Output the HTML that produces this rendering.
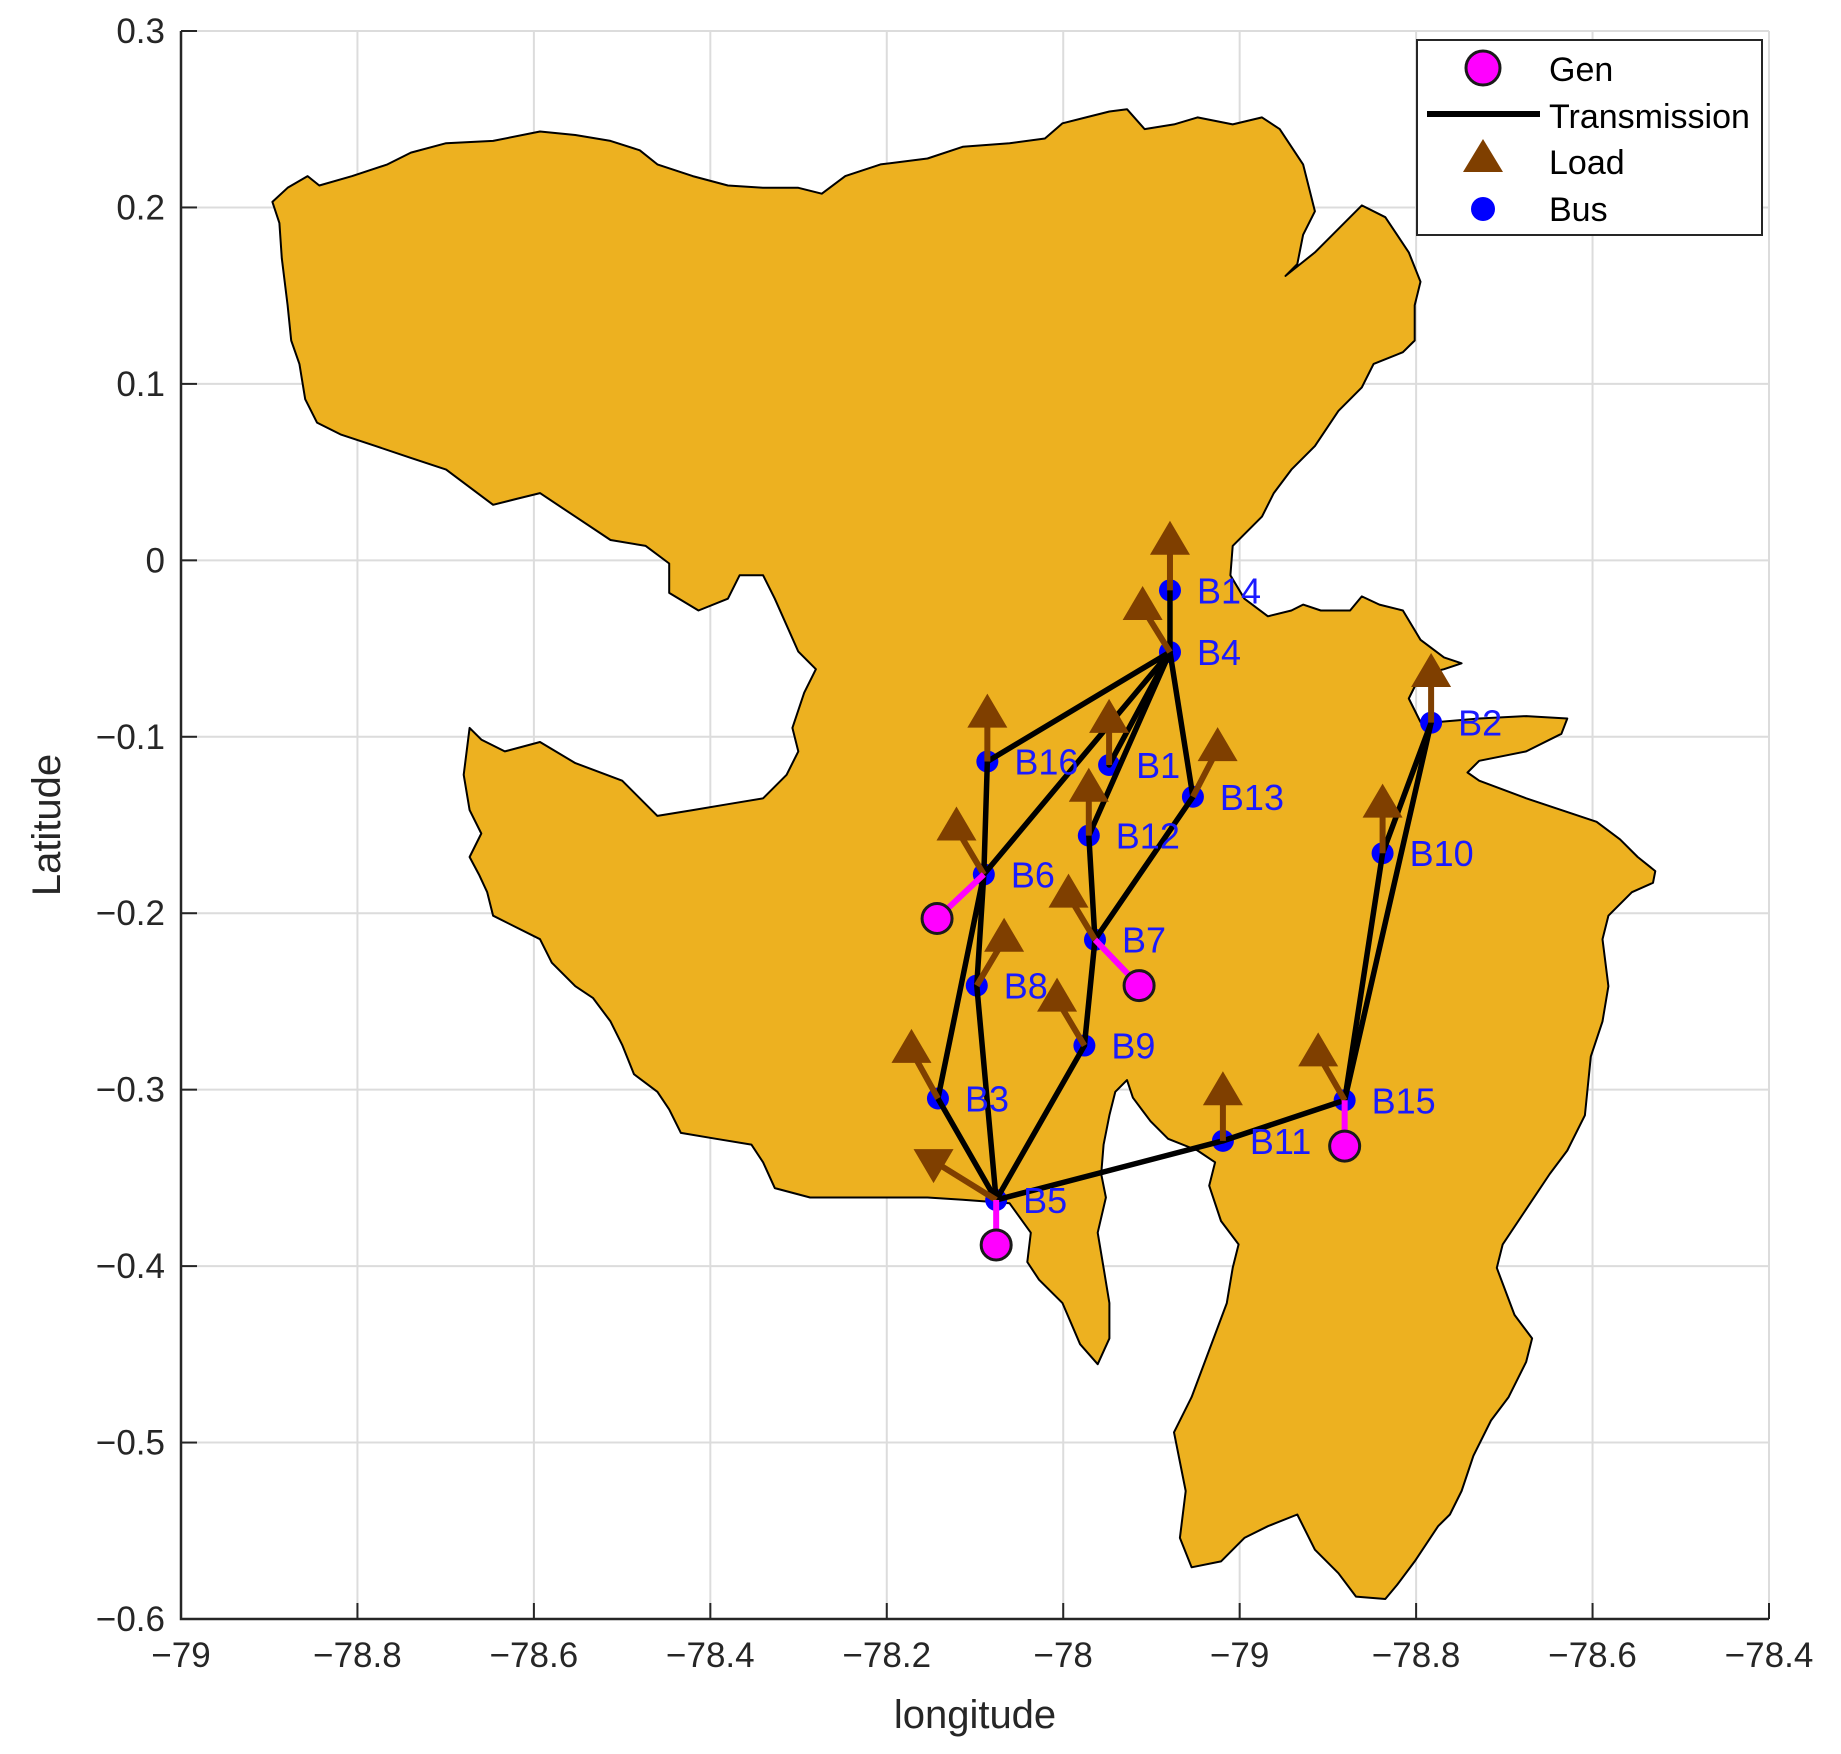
<!DOCTYPE html>
<html><head><meta charset="utf-8"><style>
html,body{margin:0;padding:0;background:#fff;}
svg{display:block;font-family:"Liberation Sans",Arial,sans-serif;}
</style></head><body>
<svg id="chart" width="1841" height="1754" viewBox="0 0 1841 1754" xmlns="http://www.w3.org/2000/svg">
<rect width="1841" height="1754" fill="#fff"/>
<g id="grid"></g>
<g id="region"></g>
<g id="lines"></g>
<g id="marks"></g>
<g id="axes"></g>
<g id="legend">
<rect x="1417" y="40" width="345" height="195" fill="#fff" stroke="#262626" stroke-width="2"/>
<circle cx="1483" cy="68" r="17" fill="#ff00ff" stroke="#1a1a1a" stroke-width="3"/>
<text x="1549" y="81" font-size="34" fill="#000">Gen</text>
<line x1="1427" y1="114" x2="1540" y2="114" stroke="#000" stroke-width="6"/>
<text x="1549" y="128" font-size="34" fill="#000">Transmission</text>
<polygon points="1463,172 1483,139 1503,172" fill="#7f3f00"/>
<text x="1549" y="174" font-size="34" fill="#000">Load</text>
<circle cx="1483" cy="209" r="12" fill="#0000ff"/>
<text x="1549" y="221" font-size="34" fill="#000">Bus</text>
</g>
</svg>
<script>
const xTickLabels = ["\u221279","\u221278.8","\u221278.6","\u221278.4","\u221278.2","\u221278","\u221279","\u221278.8","\u221278.6","\u221278.4"];
const yTickLabels = ["0.3","0.2","0.1","0","\u22120.1","\u22120.2","\u22120.3","\u22120.4","\u22120.5","\u22120.6"];
const busNames = ["B1","B2","B3","B4","B5","B6","B7","B8","B9","B10","B11","B12","B13","B14","B15","B16"];
const busLon = [-77.948,-77.583,-78.142,-77.879,-78.076,-78.090,-77.964,-78.098,-77.976,-77.638,-77.819,-77.971,-77.853,-77.879,-77.681,-78.086];
const busLat = [-0.116,-0.092,-0.305,-0.052,-0.3625,-0.178,-0.215,-0.241,-0.275,-0.166,-0.329,-0.156,-0.134,-0.017,-0.306,-0.114];
const loadDLon = [0,0,-0.030,-0.031,-0.071,-0.031,-0.030,0.031,-0.031,0,0,0,0.028,0,-0.030,0];
const loadDLat = [0.025,0.027,0.027,0.025,0.022,0.026,0.025,0.026,0.026,0.027,0.027,0.026,0.027,0.027,0.026,0.026];
const loadDown = [0,0,0,0,1,0,0,0,0,0,0,0,0,0,0,0];
const edgeFrom = ["B14","B4","B4","B4","B4","B4","B16","B13","B12","B7","B6","B6","B8","B9","B3","B5","B11","B15","B15","B10"];
const edgeTo   = ["B4","B16","B6","B1","B12","B13","B6","B7","B7","B9","B8","B3","B5","B5","B5","B11","B15","B2","B10","B2"];
const genBus = ["B6","B7","B5","B15"];
const genLon = [-78.143,-77.914,-78.076,-77.681];
const genLat = [-0.203,-0.241,-0.388,-0.332];

const X0=181,X1=1769,Y0=31,Y1=1619;
const xs = v => X0 + (v + 79) / 1.8 * (X1 - X0);
const ys = v => Y0 + (0.3 - v) / 0.9 * (Y1 - Y0);
const NS="http://www.w3.org/2000/svg";
function mk(tag, attrs, parent){const e=document.createElementNS(NS,tag);for(const k in attrs)e.setAttribute(k,attrs[k]);parent.appendChild(e);return e;}

const grid=document.getElementById('grid'), axes=document.getElementById('axes');
xTickLabels.forEach((t,i)=>{
  const x=xs(-79+i*0.2);
  const g=mk('line',{x1:x,y1:Y0,x2:x,y2:Y1,stroke:'#dcdcdc','stroke-width':2},grid);
  
  
  const tk=mk('line',{x1:x,y1:Y1,x2:x,y2:Y1-16,stroke:'#262626','stroke-width':2},axes);
  
  
  const tx=mk('text',{x:x,y:Y1+48,'font-size':35,'text-anchor':'middle',fill:'#262626'},axes);
  tx.textContent=t;
  
  
});
yTickLabels.forEach((t,i)=>{
  const y=ys(0.3-i*0.1);
  const g=mk('line',{x1:X0,y1:y,x2:X1,y2:y,stroke:'#dcdcdc','stroke-width':2},grid);
  
  
  const tk=mk('line',{x1:X0,y1:y,x2:X0+16,y2:y,stroke:'#262626','stroke-width':2},axes);
  
  
  const tx=mk('text',{x:X0-16,y:y+12,'font-size':35,'text-anchor':'end',fill:'#262626'},axes);
  tx.textContent=t;
  
  
});
const ax=mk('path',{d:`M${X0},${Y0}V${Y1}H${X1}`,fill:'none',stroke:'#262626','stroke-width':2.5},axes);


const xt=mk('text',{x:(X0+X1)/2,y:1728,'font-size':40,'text-anchor':'middle',fill:'#262626'},axes);
xt.textContent='longitude';


const yt=mk('text',{x:0,y:0,'font-size':40,'text-anchor':'middle',fill:'#262626',transform:`translate(60,${(Y0+Y1)/2}) rotate(-90)`},axes);
yt.textContent='Latitude';



const outline=[[232,172],[245,160],[262,150],[272,158],[300,150],[330,140],[350,130],[380,122],[420,120],[460,112],[490,115],[520,120],[545,128],[560,140],[590,150],[620,158],[650,160],[680,160],[700,165],[720,150],[750,140],[790,135],[820,125],[860,122],[890,118],[905,105],[925,100],[945,95],[960,93],[975,110],[1000,106],[1020,100],[1050,106],[1075,100],[1090,110],[1110,140],[1115,160],[1120,180],[1110,200],[1105,225],[1095,235],[1120,215],[1145,190],[1160,175],[1180,185],[1200,215],[1210,240],[1205,260],[1205,290],[1195,300],[1170,310],[1160,330],[1140,350],[1120,380],[1100,400],[1085,420],[1075,440],[1060,455],[1050,465],[1048,490],[1060,510],[1080,525],[1100,520],[1110,515],[1125,520],[1150,520],[1160,508],[1175,515],[1195,520],[1210,545],[1230,560],[1245,565],[1230,570],[1210,575],[1200,595],[1210,615],[1225,615],[1260,612],[1300,610],[1335,612],[1330,625],[1300,640],[1260,648],[1250,658],[1260,665],[1300,680],[1330,690],[1360,700],[1380,715],[1395,730],[1410,742],[1408,752],[1390,760],[1370,780],[1365,800],[1370,840],[1365,870],[1355,900],[1350,950],[1335,980],[1320,1000],[1300,1030],[1280,1060],[1275,1080],[1290,1120],[1305,1140],[1300,1160],[1285,1190],[1270,1210],[1255,1240],[1245,1270],[1235,1290],[1225,1300],[1205,1330],[1190,1350],[1180,1362],[1155,1360],[1140,1340],[1120,1320],[1105,1290],[1080,1300],[1060,1310],[1040,1330],[1015,1335],[1005,1310],[1010,1270],[1000,1220],[1015,1190],[1030,1150],[1045,1110],[1050,1080],[1055,1060],[1040,1040],[1030,1010],[1035,990],[1020,980],[995,970],[980,955],[965,935],[960,920],[950,930],[945,950],[940,975],[938,1000],[942,1020],[935,1050],[940,1080],[945,1110],[945,1140],[935,1162],[920,1145],[905,1110],[885,1090],[875,1075],[878,1050],[860,1025],[820,1022],[790,1020],[730,1020],[690,1020],[660,1012],[650,990],[640,975],[610,970],[580,965],[570,945],[560,930],[540,915],[530,890],[520,870],[505,850],[490,840],[470,820],[460,800],[440,790],[420,780],[415,760],[408,745],[400,730],[410,710],[400,690],[395,660],[400,620],[410,630],[430,640],[460,632],[490,650],[530,665],[560,695],[590,690],[620,685],[650,680],[670,660],[680,640],[675,620],[685,590],[695,570],[680,555],[660,510],[650,490],[630,490],[620,510],[595,520],[570,505],[570,480],[550,465],[520,460],[490,440],[460,420],[440,425],[420,430],[400,415],[380,400],[350,390],[320,380],[290,370],[270,360],[260,340],[255,310],[248,290],[245,260],[240,220],[238,190]];
const S=1.174;
const reg=mk('polygon',{points:outline.map(p=>(p[0]*S).toFixed(1)+','+(p[1]*S).toFixed(1)).join(' '),fill:'#edb120',stroke:'#000','stroke-width':2,'stroke-linejoin':'round'},document.getElementById('region'));



const idx=n=>busNames.indexOf(n);
const marks=document.getElementById('marks'), lines=document.getElementById('lines');
busNames.forEach((n,i)=>{
  const c=mk('circle',{cx:xs(busLon[i]),cy:ys(busLat[i]),r:11,fill:'#0000ff'},lines);
  
  
});
edgeFrom.forEach((f,k)=>{
  const a=idx(f),b=idx(edgeTo[k]);
  const l=mk('line',{x1:xs(busLon[a]),y1:ys(busLat[a]),x2:xs(busLon[b]),y2:ys(busLat[b]),stroke:'#000','stroke-width':5.5,'stroke-linecap':'round'},lines);
  
  
});
busNames.forEach((n,i)=>{
  const x1=xs(busLon[i]),y1=ys(busLat[i]),x2=xs(busLon[i]+loadDLon[i]),y2=ys(busLat[i]+loadDLat[i]);
  const l=mk('line',{x1:x1,y1:y1,x2:x2,y2:y2,stroke:'#7f3f00','stroke-width':6},marks);
  
  
  const pts=loadDown[i]?`${x2-20},${y2-12} ${x2+20},${y2-12} ${x2},${y2+22}`:`${x2-20},${y2+12} ${x2+20},${y2+12} ${x2},${y2-22}`;
  const t=mk('polygon',{points:pts,fill:'#7f3f00'},marks);
  
  
});
genBus.forEach((n,k)=>{
  const i=idx(n);
  const l=mk('line',{x1:xs(busLon[i]),y1:ys(busLat[i]),x2:xs(genLon[k]),y2:ys(genLat[k]),stroke:'#ff00ff','stroke-width':6},marks);
  
  
  const c=mk('circle',{cx:xs(genLon[k]),cy:ys(genLat[k]),r:15,fill:'#ff00ff',stroke:'#1a1a1a','stroke-width':3},marks);
  
  
});
busNames.forEach((n,i)=>{
  const t=mk('text',{x:xs(busLon[i])+27,y:ys(busLat[i])+13,'font-size':36,fill:'#1a1aff'},marks);
  t.textContent=n;
  
  
});
</script>
</body></html>
